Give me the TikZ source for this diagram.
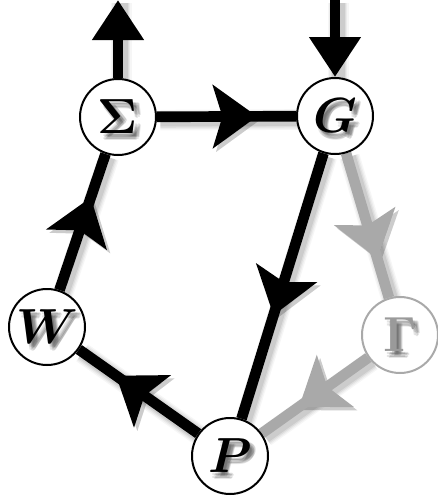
\RequirePackage{fix-cm}
\documentclass[tikz,border=0pt]{standalone}
\usepackage{bm}
\usetikzlibrary{arrows.meta,decorations.markings}
\definecolor{edgegray}{HTML}{A9A9A9}
\definecolor{labelgray}{HTML}{9A9A9A}
\pgfdeclarelayer{edges}
\pgfsetlayers{edges,main}
\tikzset{
  vtx/.style={circle, draw=#1, fill=white, line width=1.5pt, minimum size=57pt, inner sep=0pt},
  vtx/.default=black,
  lbl/.style={font=\fontsize{37}{44}\selectfont, inner sep=0pt},
  edge/.style={line width=8pt},
  midarrow/.style={postaction={decorate}, decoration={markings,
      mark=at position #1 with {\arrow{Stealth[length=33pt,width=47pt,inset=7pt]}}}},
  endarrow/.style={-{Triangle[length=30pt,width=37pt]}},
}
% a connector with a soft drop shadow and an arrow head part-way along
\newcommand\link[4]{%
  \foreach \w/\o in {15.5/0.035,13.5/0.045,11.5/0.06,9.5/0.08}{%
    \draw[line width=\w pt, black, opacity=\o, transform canvas={shift={(2.5pt,-2.5pt)}}, midarrow=#3] (#1) -- (#2);}
  \draw[edge, #4, midarrow=#3] (#1) -- (#2);}
% a vertex label with a soft drop shadow
\newcommand\vlabel[3]{%
  \foreach \dx/\dy [count=\k] in {2/-2,4/-4,3/-3,4/-2,2/-4,5/-3,3/-5}{%
    \node[lbl, text=black, text opacity=0.1, xshift=\dx pt, yshift=\dy pt] (#1-sh\k) at (#1) {#2};}
  \node[lbl, text=#3] (#1-t) at (#1) {#2};}
\begin{document}
\begin{tikzpicture}[x=0.75pt, y=-0.75pt]
  \useasboundingbox (0,0) rectangle (438,496);

  \node[vtx] (s) at (118,117) {};
  \node[vtx] (g) at (335,116) {};
  \node[vtx] (w) at (47,327) {};
  \node[vtx=edgegray] (gm) at (400,335) {};
  \node[vtx] (p) at (230,456) {};
  \coordinate (sT) at (118,0);
  \coordinate (gT) at (335,0);

  \begin{pgfonlayer}{edges}
    \foreach \w/\o in {15.5/0.035,13.5/0.045,11.5/0.06,9.5/0.08}{%
      \draw[line width=\w pt, black, opacity=\o, transform canvas={shift={(2.5pt,-2.5pt)}}] (s) -- (sT);
      \draw[line width=\w pt, black, opacity=\o, transform canvas={shift={(2.5pt,-2.5pt)}}] (gT) -- (g);}
    \draw[edge, endarrow] (s) -- (sT);
    \draw[edge, endarrow] (gT) -- (g);
    \link{s}{g}{0.72}{black}
    \link{g}{p}{0.61}{black}
    \link{p}{w}{0.69}{black}
    \link{w}{s}{0.68}{black}
    \link{g}{gm}{0.73}{edgegray}
    \link{gm}{p}{0.65}{edgegray}
  \end{pgfonlayer}

  \vlabel{s}{$\bm{\Sigma}$}{black}
  \vlabel{g}{$\bm{G}$}{black}
  \vlabel{w}{$\bm{W}$}{black}
  \vlabel{gm}{$\bm{\Gamma}$}{labelgray}
  \vlabel{p}{$\bm{P}$}{black}
\end{tikzpicture}
\end{document}
